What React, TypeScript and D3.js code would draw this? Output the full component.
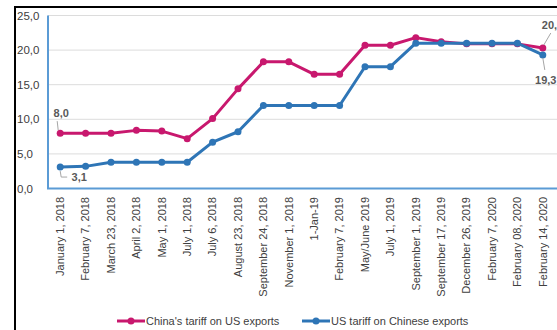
import React from "react";
import * as d3 from "d3";

const categories = [
  "January 1, 2018", "February 7, 2018", "March 23, 2018", "April 2, 2018", "May 1, 2018",
  "July 1, 2018", "July 6, 2018", "August 23, 2018", "September 24, 2018", "November 1, 2018",
  "1-Jan-19", "February 7, 2019", "May/June 2019", "July 1, 2019", "September 1, 2019",
  "September 17, 2019", "December 26, 2019", "February 7, 2020", "February 08, 2020", "February 14, 2020",
];
const chinaTariff = [8.0, 8.0, 8.0, 8.4, 8.3, 7.2, 10.1, 14.4, 18.3, 18.3, 16.5, 16.5, 20.7, 20.7, 21.8, 21.2, 20.9, 20.9, 20.9, 20.3];
const usTariff = [3.1, 3.2, 3.8, 3.8, 3.8, 3.8, 6.7, 8.2, 12.0, 12.0, 12.0, 12.0, 17.6, 17.6, 21.0, 21.0, 21.0, 21.0, 21.0, 19.3];
const yTicks = [0, 5, 10, 15, 20, 25];
const seriesNames = ["China's tariff on US exports", "US tariff on Chinese exports"];

const PINK = "#c8186e";
const BLUE = "#2e75b6";
const AXIS = "#5b9bd5";
const FONT = "'Liberation Sans', Arial, sans-serif";

export default function App() {
  const W = 557, H = 330;
  const x = d3.scaleBand<string>().domain(categories).range([47.5, 555.5]);
  const cx = (c: string) => (x(c) as number) + x.bandwidth() / 2;
  const y = d3.scaleLinear().domain([0, 25]).range([188.5, 15.5]);
  const fmt = (v: number) => v.toFixed(1).replace(".", ",");
  const line = d3.line<number>().x((_, i) => cx(categories[i])).y((d) => y(d));

  const series = [
    { name: seriesNames[0], values: chinaTariff, color: PINK },
    { name: seriesNames[1], values: usTariff, color: BLUE },
  ];

  const last = categories.length - 1;

  return (
    <svg width={W} height={H} style={{ position: "absolute", left: 0, top: 0, background: "#fff" }}>
      <rect x={0} y={0} width={W} height={H} fill="#fff" />
      {/* outer frame */}
      <line x1={15} x2={W} y1={7} y2={7} stroke="#000" strokeWidth={2} />
      <line x1={15} x2={15} y1={6} y2={H} stroke="#000" strokeWidth={2} />

      {/* gridlines */}
      {yTicks.filter((t) => t > 0).map((t) => (
        <line key={t} x1={48} x2={W} y1={y(t)} y2={y(t)} stroke="#dcdcdc" strokeWidth={1} />
      ))}
      {/* axes */}
      <line x1={48} x2={48} y1={y(25)} y2={y(0)} stroke={AXIS} strokeWidth={2} />
      <line x1={47} x2={W} y1={y(0)} y2={y(0)} stroke={AXIS} strokeWidth={2} />

      {/* y tick labels */}
      {yTicks.map((t) => (
        <text key={t} x={17} y={y(t)} dy="0.35em" fontFamily={FONT} fontSize={11.5} fill="#404040">
          {fmt(t)}
        </text>
      ))}

      {/* x labels */}
      {categories.map((c) => (
        <text
          key={c}
          transform={`translate(${cx(c)},197) rotate(-90)`}
          textAnchor="end"
          dy="0.35em"
          fontFamily={FONT}
          fontSize={11}
          fill="#404040"
        >
          {c}
        </text>
      ))}

      {/* lines */}
      {series.map((s) => (
        <g key={s.name}>
          <path d={line(s.values) || ""} fill="none" stroke={s.color} strokeWidth={3} strokeLinejoin="round" />
          {s.values.map((v, i) => (
            <circle key={i} cx={cx(categories[i])} cy={y(v)} r={3.5} fill={s.color} />
          ))}
        </g>
      ))}

      {/* data labels with leader lines */}
      <line x1={cx(categories[0]) - 3} y1={y(chinaTariff[0]) - 12} x2={cx(categories[0]) - 2} y2={y(chinaTariff[0]) - 3} stroke="#a6a6a6" strokeWidth={1} />
      <text x={cx(categories[0]) + 1} y={y(chinaTariff[0]) - 16} textAnchor="middle" fontFamily={FONT} fontSize={11} fontWeight="bold" fill="#595959">
        {fmt(chinaTariff[0])}
      </text>
      <polyline
        points={`${cx(categories[0])},${y(usTariff[0]) + 4} ${cx(categories[0]) + 1},${y(usTariff[0]) + 10} ${cx(categories[0]) + 7},${y(usTariff[0]) + 10}`}
        fill="none" stroke="#a6a6a6" strokeWidth={1}
      />
      <text x={cx(categories[0]) + 19} y={y(usTariff[0]) + 14} textAnchor="middle" fontFamily={FONT} fontSize={11} fontWeight="bold" fill="#595959">
        {fmt(usTariff[0])}
      </text>
      <line x1={cx(categories[last]) + 1} y1={y(chinaTariff[last]) - 3} x2={cx(categories[last]) + 8} y2={y(chinaTariff[last]) - 15} stroke="#a6a6a6" strokeWidth={1} />
      <text x={cx(categories[last]) - 1} y={y(chinaTariff[last]) - 19} fontFamily={FONT} fontSize={11} fontWeight="bold" fill="#595959">
        {fmt(chinaTariff[last])}
      </text>
      <line x1={cx(categories[last])} y1={y(usTariff[last]) + 3} x2={cx(categories[last]) + 2} y2={y(usTariff[last]) + 15} stroke="#a6a6a6" strokeWidth={1} />
      <text x={cx(categories[last]) + 3} y={y(usTariff[last]) + 29} textAnchor="middle" fontFamily={FONT} fontSize={11} fontWeight="bold" fill="#595959">
        {fmt(usTariff[last])}
      </text>

      {/* legend */}
      {series.map((s, i) => {
        const lx = i === 0 ? 117 : 302;
        return (
          <g key={s.name}>
            <line x1={lx} x2={lx + 28} y1={321} y2={321} stroke={s.color} strokeWidth={3} />
            <circle cx={lx + 14} cy={321} r={3.5} fill={s.color} />
            <text x={lx + 29} y={321} dy="0.35em" fontFamily={FONT} fontSize={11} fill="#404040">
              {s.name}
            </text>
          </g>
        );
      })}
    </svg>
  );
}
